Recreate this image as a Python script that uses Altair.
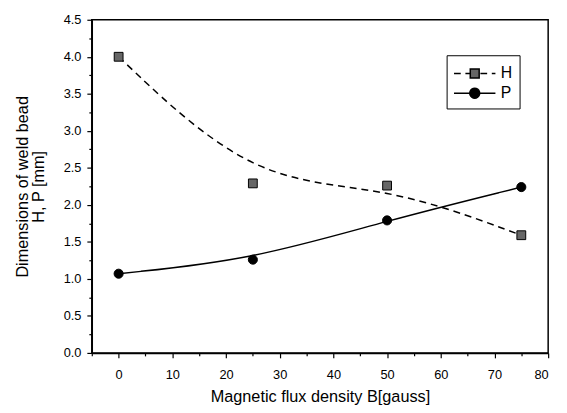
import math
import altair as alt
import pandas as pd

# ---- data ----
b_field = [0, 25, 50, 75]
h_values = [4.0, 2.29, 2.26, 1.59]
p_values = [1.07, 1.26, 1.79, 2.24]
series_names = ["H", "P"]

x_ticks = [0, 10, 20, 30, 40, 50, 60, 70, 80]
x_minor = [-5, 5, 15, 25, 35, 45, 55, 65, 75]
y_ticks = [0.0, 0.5, 1.0, 1.5, 2.0, 2.5, 3.0, 3.5, 4.0, 4.5]
y_minor = [0.25, 0.75, 1.25, 1.75, 2.25, 2.75, 3.25, 3.75, 4.25]

df = pd.DataFrame({
    "B": b_field + b_field,
    "value": h_values + p_values,
    "series": ["H"] * len(b_field) + ["P"] * len(b_field),
})

FONT = "Liberation Sans"
H_FILL = "#666666"

xscale = alt.Scale(domain=[-5, 80], nice=False, zero=False)
yscale = alt.Scale(domain=[0, 4.5], nice=False, zero=False)

x_main = alt.X("B:Q", scale=xscale, axis=alt.Axis(
    values=x_ticks, title="Magnetic flux density B[gauss]", format="d",
    grid=False, tickSize=5, labelPadding=11, titlePadding=7, orient="bottom"))
y_main = alt.Y("value:Q", scale=yscale, axis=alt.Axis(
    values=y_ticks, title=["Dimensions of weld bead", "H, P [mm]"], format=".1f",
    grid=False, tickSize=5, labelPadding=6, titlePadding=17, orient="left"))

x_min = alt.X("B:Q", scale=xscale, axis=alt.Axis(
    values=x_minor, labels=False, title=None, grid=False, domain=False,
    tickSize=3, orient="bottom"))
y_min = alt.Y("value:Q", scale=yscale, axis=alt.Axis(
    values=y_minor, labels=False, title=None, grid=False, domain=False,
    tickSize=3, orient="left"))
x_none = alt.X("B:Q", scale=xscale, axis=None)
y_none = alt.Y("value:Q", scale=yscale, axis=None)

base = alt.Chart(df)
h_data = base.transform_filter("datum.series === 'H'")
p_data = base.transform_filter("datum.series === 'P'")

h_line = h_data.mark_line(interpolate="basis", color="black", strokeWidth=1.5,
                          strokeDash=[7, 5]).encode(x=x_main, y=y_main)
p_line = p_data.mark_line(interpolate="basis", color="black", strokeWidth=1.5).encode(
    x=x_min, y=y_min)

h_points = h_data.mark_square(size=80, fill=H_FILL, stroke="black", strokeWidth=1,
                              opacity=1).encode(x=x_none, y=y_none)
p_points = p_data.mark_circle(size=85, fill="black", stroke="black", strokeWidth=1,
                              opacity=1).encode(x=x_none, y=y_none)

# legend glyphs: line (dashed / solid) with the marker in the middle
r = 0.48
circle_pts = " ".join(
    f"{'M' if i == 0 else 'L'}{r * math.cos(2 * math.pi * i / 20):.3f},{r * math.sin(2 * math.pi * i / 20):.3f}"
    for i in range(20)
) + " Z"
path_h = ("M-2,0 L-1.35,0 M-0.9,0 L-0.45,0 M0.55,0 L1.2,0 M1.65,0 L2,0 "
          "M-0.43,-0.43 L0.43,-0.43 L0.43,0.43 L-0.43,0.43 Z")
path_p = "M-2,0 L2,0 " + circle_pts

legend_props = dict(
    title=None, orient="none", legendX=360, legendY=36,
    padding=7, strokeColor="black", fillColor="white",
    symbolSize=441, symbolStrokeWidth=1.5, symbolStrokeColor="black",
    symbolOpacity=1, symbolOffset=10, labelOffset=15, rowPadding=0,
    labelFont=FONT, labelFontSize=16, labelColor="black",
)

legend_layer = base.transform_filter("false").mark_point(
    filled=True, strokeWidth=1.5, opacity=1).encode(
    x=x_none, y=y_none,
    shape=alt.Shape("series:N", scale=alt.Scale(domain=series_names, range=[path_h, path_p]),
                    legend=alt.Legend(**legend_props)),
    fill=alt.Fill("series:N", scale=alt.Scale(domain=series_names, range=[H_FILL, "black"]),
                  legend=alt.Legend(**legend_props)),
    stroke=alt.Stroke("series:N", scale=alt.Scale(domain=series_names, range=["black", "black"]),
                      legend=alt.Legend(**legend_props)),
)

chart = alt.layer(h_line, p_line, h_points, p_points, legend_layer).resolve_axis(
    x="independent", y="independent"
).properties(
    width=463, height=338, autosize="none",
    padding={"left": 85, "top": 9, "right": 11, "bottom": 57},
).configure_view(stroke="black", strokeWidth=1.5).configure_axis(
    labelFont=FONT, titleFont=FONT, labelFontSize=13, titleFontSize=16.5,
    titleFontWeight="normal", labelColor="black", titleColor="black",
    domainColor="black", tickColor="black", domainWidth=1.5, tickWidth=1.2,
    titleLineHeight=16,
)

chart.save("out.html", embed_options={"renderer": "svg", "actions": False})
